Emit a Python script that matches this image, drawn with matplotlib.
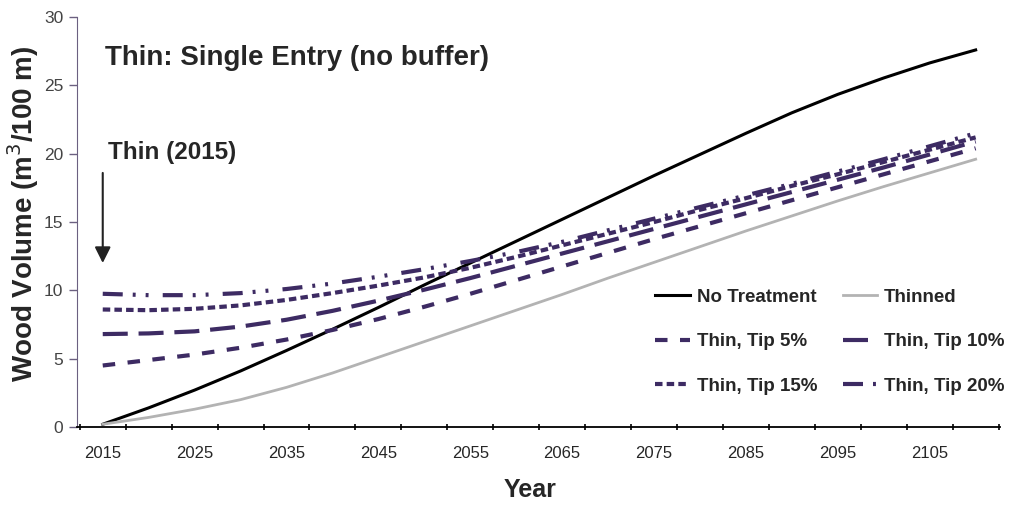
import numpy as np
import matplotlib
matplotlib.use("Agg")
from matplotlib import pyplot as plt
from matplotlib.ticker import FixedLocator

plt.rcParams['font.family'] = ['Liberation Sans', 'DejaVu Sans']

years = np.arange(2015, 2111, 5)
no_treatment = [0.2, 1.4, 2.7, 4.1, 5.6, 7.15, 8.75, 10.4, 12.0, 13.6,
                15.2, 16.8, 18.4, 19.95, 21.5, 23.0, 24.35, 25.55, 26.65, 27.6]
thinned = [0.2, 0.7, 1.3, 2.0, 2.9, 3.95, 5.1, 6.25, 7.4, 8.55,
           9.7, 10.9, 12.05, 13.2, 14.35, 15.45, 16.55, 17.6, 18.6, 19.6]
tip5 = [4.5, 4.9, 5.3, 5.8, 6.4, 7.1, 7.9, 8.8, 9.75, 10.75,
        11.75, 12.75, 13.75, 14.7, 15.65, 16.6, 17.55, 18.5, 19.45, 20.4]
tip10 = [6.8, 6.85, 7.0, 7.35, 7.85, 8.5, 9.25, 10.05, 10.9, 11.8,
         12.7, 13.6, 14.5, 15.4, 16.3, 17.2, 18.1, 19.0, 19.95, 20.9]
tip15 = [8.6, 8.55, 8.65, 8.9, 9.3, 9.8, 10.35, 10.95, 11.65, 12.45,
         13.3, 14.15, 15.0, 15.9, 16.75, 17.65, 18.5, 19.4, 20.3, 21.2]
tip20 = [9.75, 9.65, 9.65, 9.8, 10.1, 10.5, 11.0, 11.55, 12.15, 12.8,
         13.55, 14.4, 15.25, 16.1, 16.95, 17.8, 18.7, 19.6, 20.55, 21.5]

purple = '#3d2b63'
txt = '#262626'

fig = plt.figure(figsize=(10.16, 5.05), dpi=100)
ax = fig.add_axes([0.0758, 0.1545, 0.908, 0.8115])

l_no, = ax.plot(years, no_treatment, color='black', lw=2.2, label='No Treatment')
l_th, = ax.plot(years, thinned, color='#b3b3b3', lw=2.0, label='Thinned')
l5, = ax.plot(years, tip5, color=purple, lw=3, dashes=(3, 3), label='Thin, Tip 5%')
l10, = ax.plot(years, tip10, color=purple, lw=3, dashes=(6, 2.6), label='Thin, Tip 10%')
l15, = ax.plot(years, tip15, color=purple, lw=3, dashes=(1.8, 1.0), label='Thin, Tip 15%')
l20, = ax.plot(years, tip20, color=purple, lw=3, dashes=(4.8, 2.4, 0.7, 2.4, 0.7, 3.4), label='Thin, Tip 20%')

ax.set_xlim(2012.2, 2112.6)
ax.set_ylim(0, 30)

tickfont = ['Liberation Sans Narrow', 'Liberation Sans', 'DejaVu Sans']
ax.xaxis.set_major_locator(FixedLocator(np.arange(2015, 2106, 10)))
ax.xaxis.set_minor_locator(FixedLocator(np.arange(2012.5, 2113, 5)))
ax.tick_params(axis='x', which='major', length=0, pad=14, labelsize=12, labelcolor=txt)
ax.tick_params(axis='x', which='minor', length=5, width=1.2, direction='inout', color='black')
ax.set_yticks(np.arange(0, 31, 5))
ax.tick_params(axis='y', length=6, width=1, pad=4, color='#6b6080', labelsize=12.5, labelcolor='#444444')
for lab in ax.get_xticklabels() + ax.get_yticklabels():
    lab.set_family(tickfont)

for s in ['top', 'right']:
    ax.spines[s].set_visible(False)
ax.spines['left'].set_color('#6b6080')
ax.spines['bottom'].set_color('black')
ax.spines['bottom'].set_linewidth(1.3)

ax.set_xlabel('Year', fontsize=18, fontweight='bold', color=txt)
ax.xaxis.set_label_coords(0.491, -0.125)
ax.set_ylabel('Wood Volume (m$^3$/100 m)', fontsize=20, fontweight='bold', color=txt)
ax.yaxis.set_label_coords(-0.039, 0.52)

ax.text(2015.3, 27.0, 'Thin: Single Entry (no buffer)', fontsize=20, fontweight='bold', color=txt, va='center')
ax.text(2015.55, 20.1, 'Thin (2015)', fontsize=17.5, fontweight='bold', color=txt, va='center')
ax.annotate('', xy=(2015, 11.8), xytext=(2015, 18.8),
            arrowprops=dict(arrowstyle='-|>', color='#222222', lw=1.5, mutation_scale=24))

leg = ax.legend(handles=[l_no, l5, l15, l_th, l10, l20], ncol=2, frameon=False,
                loc='upper left', bbox_to_anchor=(0.627, 0.337),
                prop={'weight': 'bold', 'size': 13.5}, handlelength=1.85,
                labelspacing=1.46, columnspacing=1.35, handletextpad=0.35,
                borderpad=0, borderaxespad=0)
for t in leg.get_texts():
    t.set_color(txt)

fig.savefig('out.png', dpi=100)
